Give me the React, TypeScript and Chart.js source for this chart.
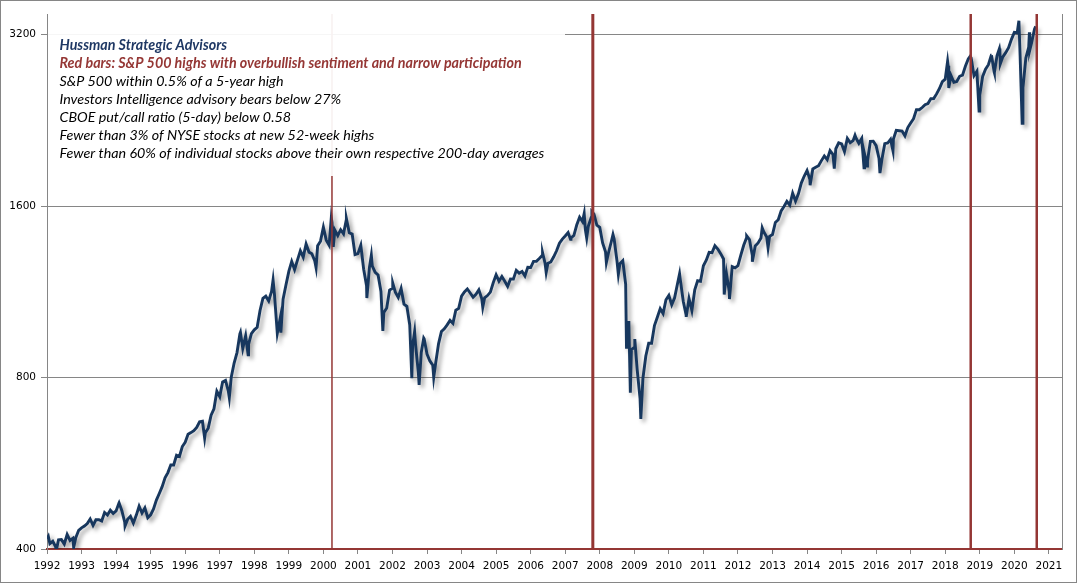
import React, { useEffect, useRef } from "react";
import { Chart, registerables } from "chart.js";
Chart.register(...registerables);

// S&P 500 month-end closes, starting January 1992
const firstYear = 1992;
const monthlyCloses = [
  408.8, 412.7, 403.7, 414.9, 415.4, 408.1, 424.2, 414.0, 417.8, 418.7, 431.4, 435.7,
  438.8, 443.4, 451.7, 440.2, 450.2, 450.5, 448.1, 463.6, 458.9, 467.8, 461.8, 466.5,
  481.6, 467.1, 445.8, 450.9, 456.5, 444.3, 458.3, 475.5, 462.7, 472.4, 454.0, 459.3,
  470.4, 487.4, 500.7, 514.7, 533.4, 544.8, 562.1, 561.9, 584.4, 581.5, 605.4, 615.9,
  636.0, 640.4, 645.5, 654.2, 669.1, 670.6, 639.9, 652.0, 687.3, 705.3, 757.0, 740.7,
  786.2, 790.8, 757.1, 801.3, 848.3, 885.1, 954.3, 899.5, 947.3, 914.6, 955.4, 970.4,
  980.3, 1049.3, 1101.8, 1111.8, 1090.8, 1133.8, 1120.7, 957.3, 1017.0, 1098.7, 1163.6, 1229.2,
  1279.6, 1238.3, 1286.4, 1335.2, 1301.8, 1372.7, 1328.7, 1320.4, 1282.7, 1362.9, 1388.9, 1469.3,
  1394.5, 1366.4, 1498.6, 1452.4, 1420.6, 1454.6, 1430.8, 1517.7, 1436.5, 1429.4, 1315.2, 1320.3,
  1366.0, 1239.9, 1160.3, 1249.5, 1256.0, 1224.4, 1211.2, 1133.6, 1040.9, 1059.8, 1139.5, 1148.1,
  1130.2, 1106.7, 1147.4, 1076.9, 1067.1, 989.8, 911.6, 916.1, 815.3, 885.8, 936.3, 879.8,
  855.7, 841.2, 848.2, 916.9, 963.6, 974.5, 990.3, 1008.0, 996.0, 1050.7, 1058.2, 1111.9,
  1131.1, 1144.9, 1126.2, 1107.3, 1120.7, 1140.8, 1101.7, 1104.2, 1114.6, 1130.2, 1173.8, 1211.9,
  1181.3, 1203.6, 1180.6, 1156.9, 1191.5, 1191.3, 1234.2, 1220.3, 1228.8, 1207.0, 1249.5, 1248.3,
  1280.1, 1280.7, 1294.9, 1310.6, 1270.1, 1270.2, 1276.7, 1303.8, 1335.9, 1377.9, 1400.6, 1418.3,
  1438.2, 1406.8, 1420.9, 1482.4, 1530.6, 1503.4, 1455.3, 1474.0, 1526.8, 1549.4, 1481.1, 1468.4,
  1378.6, 1330.6, 1322.7, 1385.6, 1400.4, 1280.0, 1267.4, 1282.8, 1166.4, 968.8, 896.2, 903.3,
  825.9, 735.1, 797.9, 872.8, 919.1, 919.3, 987.5, 1020.6, 1057.1, 1036.2, 1095.6, 1115.1,
  1073.9, 1104.5, 1169.4, 1186.7, 1089.4, 1030.7, 1101.6, 1049.3, 1141.2, 1183.3, 1180.6, 1257.6,
  1286.1, 1327.2, 1325.8, 1363.6, 1345.2, 1320.6, 1292.3, 1218.9, 1131.4, 1253.3, 1247.0, 1257.6,
  1312.4, 1365.7, 1408.5, 1397.9, 1310.3, 1362.2, 1379.3, 1406.6, 1440.7, 1412.2, 1416.2, 1426.2,
  1498.1, 1514.7, 1569.2, 1597.6, 1630.7, 1606.3, 1685.7, 1633.0, 1681.6, 1756.5, 1805.8, 1848.4,
  1782.6, 1859.5, 1872.3, 1884.0, 1923.6, 1960.2, 1930.7, 2003.4, 1972.3, 2018.1, 2067.6, 2058.9,
  1995.0, 2104.5, 2067.9, 2085.5, 2107.4, 2063.1, 2103.8, 1972.2, 1920.0, 2079.4, 2080.4, 2043.9,
  1940.2, 1932.2, 2059.7, 2065.3, 2097.0, 2098.9, 2173.6, 2171.0, 2168.3, 2126.2, 2198.8, 2238.8,
  2278.9, 2363.6, 2362.7, 2384.2, 2411.8, 2423.4, 2470.3, 2471.7, 2519.4, 2575.3, 2647.6, 2673.6,
  2823.8, 2713.8, 2640.9, 2648.1, 2705.3, 2718.4, 2816.3, 2901.5, 2914.0, 2711.7, 2760.2, 2506.9,
  2704.1, 2784.5, 2834.4, 2945.8, 2752.1, 2941.8, 2980.4, 2926.5, 2976.7, 3037.6, 3141.0, 3230.8,
  3225.5, 2954.2, 2584.6, 2912.4, 3044.3, 3100.3, 3271.1,
];

// Intra-month highs and lows
const swingDates = [
  "1992-01-02", "1992-01-15", "1992-04-08", "1992-10-09", "1994-02-02", "1994-04-04",
  "1996-07-24", "1997-04-11", "1997-08-07", "1997-10-27", "1998-07-17", "1998-10-08",
  "1999-10-15", "2000-03-24", "2000-04-14", "2000-09-01", "2001-04-04", "2001-05-21",
  "2001-09-21", "2002-01-04", "2002-07-23", "2002-08-22", "2002-10-09", "2002-11-27",
  "2003-03-11", "2004-08-12", "2006-05-05", "2006-06-13", "2007-02-27", "2007-07-19",
  "2007-08-15", "2007-10-09", "2008-03-10", "2008-05-19", "2008-07-15", "2008-10-10",
  "2008-11-04", "2008-11-20", "2009-01-06", "2009-03-09", "2010-04-23", "2010-07-02",
  "2011-08-08", "2011-10-03", "2012-04-02", "2012-06-01", "2012-09-14", "2012-11-15",
  "2014-02-03", "2014-10-15", "2015-05-21", "2015-08-25", "2015-09-28", "2016-02-11",
  "2016-06-27", "2018-01-26", "2018-02-08", "2018-09-20", "2018-12-24", "2019-05-03",
  "2019-06-03", "2019-07-26", "2019-08-05", "2020-02-19", "2020-03-23", "2020-06-08",
  "2020-06-11", "2020-08-14",
];
const swingValues = [
  417.0, 420.8, 398.0, 402.7, 482.0, 438.9,
  626.7, 737.6, 960.3, 877.0, 1186.8, 959.4,
  1247.4, 1527.5, 1356.6, 1520.8, 1103.3, 1312.8,
  965.8, 1172.5, 797.7, 962.7, 776.8, 938.9,
  800.7, 1063.2, 1325.8, 1223.7, 1399.0, 1553.1,
  1406.7, 1565.2, 1273.4, 1426.6, 1214.9, 899.2,
  1005.8, 752.4, 934.7, 676.5, 1217.3, 1022.6,
  1119.5, 1099.2, 1419.0, 1278.0, 1465.8, 1353.3,
  1741.9, 1862.5, 2130.8, 1867.6, 1881.8, 1829.1,
  2000.5, 2872.9, 2581.0, 2930.8, 2351.1, 2945.6,
  2744.5, 3025.9, 2844.7, 3386.2, 2237.4, 3232.4,
  3002.1, 3310.0,
];

// Red bars: S&P 500 highs with overbullish sentiment and narrow participation
const redBarDates = ["2000-03-31", "2007-10-19", "2018-09-27", "2020-08-25"];

const yTicks = [400, 800, 1600, 3200];
const yMin = 400;
const yMax = 3480;
const xTicks = [
  1992, 1993, 1994, 1995, 1996, 1997, 1998, 1999, 2000, 2001, 2002, 2003, 2004, 2005, 2006,
  2007, 2008, 2009, 2010, 2011, 2012, 2013, 2014, 2015, 2016, 2017, 2018, 2019, 2020, 2021,
];
const xMin = 1992;
const xMax = 2021.38;

const noteLines = [
  "Hussman Strategic Advisors",
  "Red bars: S&P 500 highs with overbullish sentiment and narrow participation",
  "S&P 500 within 0.5% of a 5-year high",
  "Investors Intelligence advisory bears below 27%",
  "CBOE put/call ratio (5-day) below 0.58",
  "Fewer than 3% of NYSE stocks at new 52-week highs",
  "Fewer than 60% of individual stocks above their own respective 200-day averages",
];

function toYear(s: string): number {
  const [y, m, d] = s.split("-").map(Number);
  return y + (m - 1) / 12 + (d - 1) / 365;
}

function buildSeries() {
  const pts: { x: number; y: number }[] = [];
  monthlyCloses.forEach((v, i) => {
    pts.push({ x: firstYear + (i + 1) / 12, y: v });
  });
  swingDates.forEach((d, i) => pts.push({ x: toYear(d), y: swingValues[i] }));
  pts.sort((a, b) => a.x - b.x);
  return pts;
}

const lineShadow = {
  id: "lineShadow",
  beforeDatasetDraw(chart: any, args: any) {
    if (args.index !== 0) return;
    const ctx = chart.ctx;
    ctx.save();
    ctx.shadowColor = "rgba(0,0,0,0.38)";
    ctx.shadowBlur = 4;
    ctx.shadowOffsetX = 3;
    ctx.shadowOffsetY = 3;
  },
  afterDatasetDraw(chart: any, args: any) {
    if (args.index !== 0) return;
    chart.ctx.restore();
  },
};

const noteBox = {
  id: "noteBox",
  afterDatasetsDraw(chart: any) {
    const ctx = chart.ctx;
    const area = chart.chartArea;
    ctx.save();
    ctx.fillStyle = "rgba(255,255,255,0.93)";
    ctx.fillRect(area.left + 1, area.top, 564 - area.left - 1, 175 - area.top);
    ctx.textBaseline = "middle";
    ctx.textAlign = "left";
    noteLines.forEach((t, i) => {
      if (i === 0) {
        ctx.font = "italic bold 14.3px Lato";
        ctx.fillStyle = "#1F3864";
      } else if (i === 1) {
        ctx.font = "italic bold 14.3px Lato";
        ctx.fillStyle = "#953735";
      } else {
        ctx.font = "italic 14.3px Lato";
        ctx.fillStyle = "#000000";
      }
      ctx.fillText(t, 58.5, 44.5 + i * 17.9);
    });
    ctx.restore();
  },
};

export default function App() {
  const ref = useRef<HTMLCanvasElement | null>(null);
  useEffect(() => {
    document.body.style.margin = "0";
    const series = buildSeries();
    const barWidths = [1.5, 3, 2.5, 2.5];
    const redSets = redBarDates.map((d, i) => ({
      type: "line" as const,
      data: [
        { x: toYear(d), y: yMin },
        { x: toYear(d), y: yMax },
      ],
      borderColor: "#943634",
      borderWidth: barWidths[i],
      pointRadius: 0,
      order: 1,
      yAxisID: "y",
    }));
    const tickFont = { family: "'DejaVu Sans', Verdana, sans-serif", size: 10.5 };
    const chart = new Chart(ref.current as HTMLCanvasElement, {
      type: "line",
      data: {
        datasets: [
          {
            data: series,
            borderColor: "#17375E",
            borderWidth: 2.9,
            pointRadius: 0,
            tension: 0,
            order: 2,
            yAxisID: "y",
          },
          ...redSets,
        ] as any,
      },
      options: {
        animation: false,
        responsive: true,
        maintainAspectRatio: false,
        parsing: false as any,
        normalized: true,
        layout: { padding: { top: 13, left: 0, right: 0, bottom: 0 } },
        plugins: { legend: { display: false }, tooltip: { enabled: false } },
        events: [],
        scales: {
          x: {
            type: "linear",
            min: xMin,
            max: xMax,
            afterBuildTicks: (s: any) => {
              s.ticks = xTicks.map((v) => ({ value: v }));
            },
            afterFit: (s: any) => {
              s.height = 33;
            },
            ticks: {
              autoSkip: false,
              maxRotation: 0,
              minRotation: 0,
              padding: 6,
              color: "#000",
              font: tickFont,
              callback: (v: any) => String(v),
            },
            grid: { drawOnChartArea: false, tickLength: 5, tickColor: "#868686" },
            border: { color: "#943634", width: 2 },
          },
          y: {
            type: "logarithmic",
            position: "left",
            min: yMin,
            max: yMax,
            afterBuildTicks: (s: any) => {
              s.ticks = yTicks.map((v) => ({ value: v }));
            },
            afterFit: (s: any) => {
              s.width = 46;
            },
            ticks: {
              padding: 5,
              color: "#000",
              font: tickFont,
              callback: (v: any) => String(v),
            },
            grid: {
              color: (c: any) => (c.tick && c.tick.value === yMin ? "rgba(0,0,0,0)" : "#868686"),
              tickColor: "#868686",
              tickLength: 6,
            },
            border: { color: "#868686", width: 1 },
          },
          y2: {
            type: "linear",
            position: "right",
            display: true,
            afterFit: (s: any) => {
              s.width = 14;
            },
            ticks: { display: false },
            grid: { drawOnChartArea: false, drawTicks: false },
            border: { color: "#868686", width: 1 },
          },
        },
      } as any,
      plugins: [lineShadow, noteBox],
    });
    return () => chart.destroy();
  }, []);
  return (
    <div
      style={{
        width: 1077,
        height: 583,
        boxSizing: "border-box",
        border: "1px solid #868686",
        background: "#fff",
      }}
    >
      <div style={{ position: "relative", width: 1075, height: 581 }}>
        <canvas ref={ref} />
      </div>
    </div>
  );
}
